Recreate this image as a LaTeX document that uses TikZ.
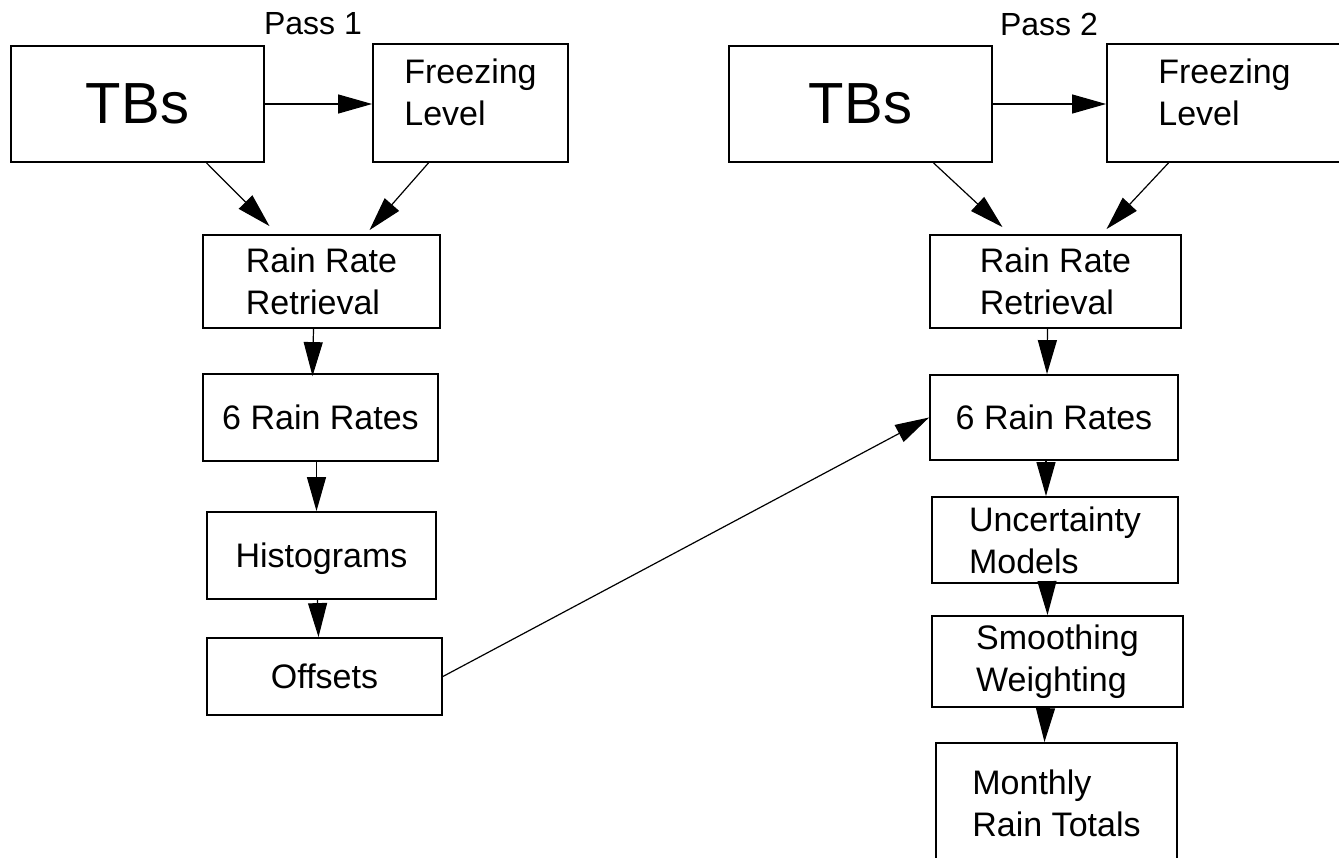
\documentclass[tikz,border=0pt]{standalone}
\usepackage{fontspec}
\setmainfont{Liberation Sans}
\usetikzlibrary{arrows.meta}
\tikzset{
	box/.style={draw, line width=1.8pt, align=left, inner sep=0pt, font=\fontsize{34}{42}\selectfont},
	bigtext/.style={font=\fontsize{58}{60}\selectfont},
	pass/.style={font=\fontsize{32}{36}\selectfont},
	arr/.style={-{Triangle[length=34pt,width=19pt]}, line width=1.2pt},
}
\begin{document}
\begin{tikzpicture}[x=1pt,y=-1pt]
	\path[use as bounding box,clip] (0,0) rectangle (1339,858);
	% pass 1
	\node[pass] (pass1) at (313,24) {Pass 1};
	\node[box,bigtext,minimum width=253pt,minimum height=116pt] (tbsA) at (137.5,104) {TBs};
	\node[box,minimum width=195pt,minimum height=118pt,text depth=22pt] (frzA) at (470.5,103) {Freezing\\Level};
	\node[box,minimum width=237pt,minimum height=93pt] (rrrA) at (321.5,281.5) {Rain Rate\\Retrieval};
	\node[box,minimum width=235pt,minimum height=87pt] (sixA) at (320.5,417.5) {6 Rain Rates};
	\node[box,minimum width=229pt,minimum height=87pt,text depth=0pt] (histA) at (321.5,555.5) {Histograms};
	\node[box,minimum width=235pt,minimum height=77pt] (offA) at (324.5,676.5) {Offsets};
	\draw[arr] (tbsA.east) -- (tbsA.east -| frzA.west);
	\draw[arr] ([xshift=69pt]tbsA.south) -- ([xshift=-52pt,yshift=8pt]rrrA.north);
	\draw[arr] ([xshift=-42pt]frzA.south) -- ([xshift=48pt,yshift=4pt]rrrA.north);
	\draw[arr] ([xshift=-8pt]rrrA.south) -- ([xshift=-8pt,yshift=-3pt]sixA.north);
	\draw[arr] ([xshift=-4pt]sixA.south) -- ([xshift=-5pt]histA.north);
	\draw[arr] ([xshift=-4pt]histA.south) -- ([xshift=-6pt]offA.north);
	% pass 2
	\node[pass] (pass2) at (1049,24) {Pass 2};
	\node[box,bigtext,minimum width=263pt,minimum height=116pt] (tbsB) at (860.5,104) {TBs};
	\node[box,minimum width=235pt,minimum height=118pt,text depth=22pt] (frzB) at (1224.5,103) {Freezing\\Level};
	\node[box,minimum width=251pt,minimum height=93pt] (rrrB) at (1055.5,281.5) {Rain Rate\\Retrieval};
	\node[box,minimum width=248pt,minimum height=85pt] (sixB) at (1054,417.5) {6 Rain Rates};
	\node[box,minimum width=246pt,minimum height=86pt] (uncB) at (1055,540) {Uncertainty\\Models};
	\node[box,minimum width=251pt,minimum height=91pt] (smoB) at (1057.5,661.5) {Smoothing\\Weighting};
	\node[box,minimum width=241pt,minimum height=120pt] (monB) at (1056.5,803) {Monthly\\Rain Totals};
	\draw[arr] (tbsB.east) -- (tbsB.east -| frzB.west);
	\draw[arr] ([xshift=73pt]tbsB.south) -- ([xshift=-53pt,yshift=7pt]rrrB.north);
	\draw[arr] ([xshift=-56pt]frzB.south) -- ([xshift=51pt,yshift=5pt]rrrB.north);
	\draw[arr] ([xshift=-8pt]rrrB.south) -- ([xshift=-7pt]sixB.north);
	\draw[arr] ([xshift=-8pt]sixB.south) -- ([xshift=-9pt]uncB.north);
	\draw[arr] ([xshift=-8pt]uncB.south) -- ([xshift=-10pt]smoB.north);
	\draw[arr] ([xshift=-12pt]smoB.south) -- ([xshift=-12pt]monB.north);
	% offsets into pass 2
	\draw[arr] (offA.east) -- (sixB.west);
\end{tikzpicture}
\end{document}
